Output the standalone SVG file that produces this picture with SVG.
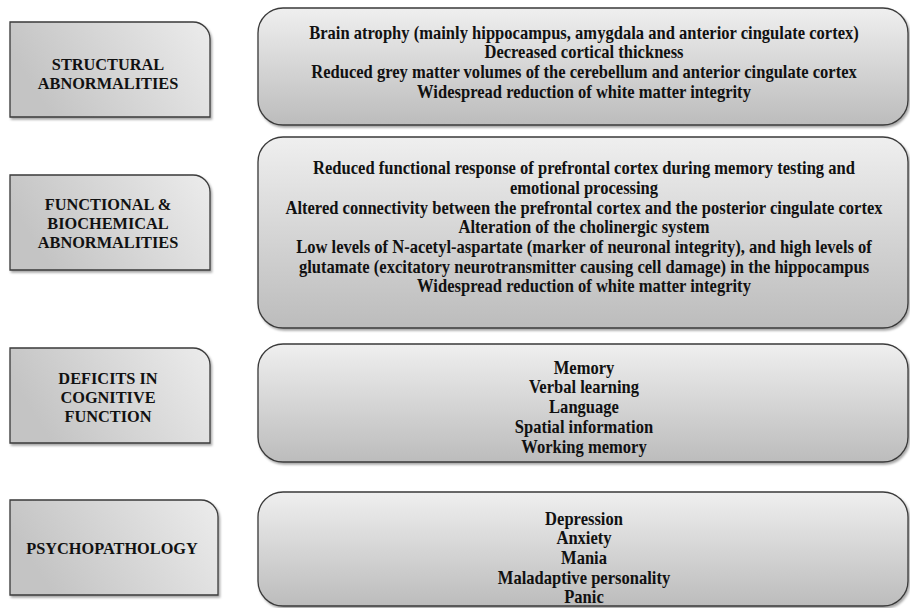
<svg xmlns="http://www.w3.org/2000/svg" width="910" height="608" viewBox="0 0 910 608">
<style>
.lbox{fill:url(#gl);stroke:#3a3a3a;stroke-width:1.3;filter:url(#sh)}
.rbox{fill:url(#gr);stroke:#3a3a3a;stroke-width:1.3;filter:url(#sh)}
text{font-family:"Liberation Serif","Times New Roman",serif;font-weight:bold;fill:#111;text-anchor:middle}
.lt{font-size:17px}
.rt{font-size:18px}
</style>
<defs>
<linearGradient id="gl" x1="0" y1="0.3" x2="1" y2="0">
<stop offset="0" stop-color="#c4c4c4"/>
<stop offset="1" stop-color="#ececec"/>
</linearGradient>
<linearGradient id="gr" x1="0" y1="0" x2="0" y2="1">
<stop offset="0" stop-color="#efefef"/>
<stop offset="1" stop-color="#bcbcbc"/>
</linearGradient>
<filter id="sh" x="-5%" y="-5%" width="110%" height="115%">
<feDropShadow dx="1.5" dy="2" stdDeviation="1.2" flood-color="#000" flood-opacity="0.35"/>
</filter>
</defs>
<rect width="910" height="608" fill="#fff"/>
<g id="connectors"/>
<g id="structural">
<path class="lbox" d="M10,22 H193 A17,17 0 0 1 210,39 V117 H10 Z"/>
<text class="lt" transform="translate(108,70) scale(0.96,1)">STRUCTURAL</text>
<text class="lt" transform="translate(108,89) scale(0.96,1)">ABNORMALITIES</text>
</g>
<g id="functional">
<path class="lbox" d="M10,175 H193 A17,17 0 0 1 210,192 V270 H10 Z"/>
<text class="lt" transform="translate(108,210) scale(0.96,1)">FUNCTIONAL &amp;</text>
<text class="lt" transform="translate(108,229) scale(0.96,1)">BIOCHEMICAL</text>
<text class="lt" transform="translate(108,248) scale(0.96,1)">ABNORMALITIES</text>
</g>
<g id="cognitive">
<path class="lbox" d="M10,348 H193 A17,17 0 0 1 210,365 V443 H10 Z"/>
<text class="lt" transform="translate(108,384) scale(0.96,1)">DEFICITS IN</text>
<text class="lt" transform="translate(108,403) scale(0.96,1)">COGNITIVE</text>
<text class="lt" transform="translate(108,422) scale(0.96,1)">FUNCTION</text>
</g>
<g id="psychopathology">
<path class="lbox" d="M10,500 H201 A17,17 0 0 1 218,517 V595 H10 Z"/>
<text class="lt" transform="translate(112,554) scale(0.96,1)">PSYCHOPATHOLOGY</text>
</g>
<g id="structural-details">
<rect class="rbox" x="258" y="8" width="650" height="117" rx="25"/>
<text class="rt" transform="translate(584,39) scale(0.92,1)">Brain atrophy (mainly hippocampus, amygdala and anterior cingulate cortex)</text>
<text class="rt" transform="translate(584,58) scale(0.92,1)">Decreased cortical thickness</text>
<text class="rt" transform="translate(584,78) scale(0.92,1)">Reduced grey matter volumes of the cerebellum and anterior cingulate cortex</text>
<text class="rt" transform="translate(584,98) scale(0.92,1)">Widespread reduction of white matter integrity</text>
</g>
<g id="functional-details">
<rect class="rbox" x="258" y="137" width="650" height="191" rx="25"/>
<text class="rt" transform="translate(584,174) scale(0.92,1)">Reduced functional response of prefrontal cortex during memory testing and</text>
<text class="rt" transform="translate(584,194) scale(0.92,1)">emotional processing</text>
<text class="rt" transform="translate(584,214) scale(0.92,1)">Altered connectivity between the prefrontal cortex and the posterior cingulate cortex</text>
<text class="rt" transform="translate(584,233) scale(0.92,1)">Alteration of the cholinergic system</text>
<text class="rt" transform="translate(584,253) scale(0.92,1)">Low levels of N-acetyl-aspartate (marker of neuronal integrity), and high levels of</text>
<text class="rt" transform="translate(584,273) scale(0.92,1)">glutamate (excitatory neurotransmitter causing cell damage) in the hippocampus</text>
<text class="rt" transform="translate(584,292) scale(0.92,1)">Widespread reduction of white matter integrity</text>
</g>
<g id="cognitive-details">
<rect class="rbox" x="258" y="344" width="650" height="118" rx="25"/>
<text class="rt" transform="translate(584,374) scale(0.92,1)">Memory</text>
<text class="rt" transform="translate(584,393) scale(0.92,1)">Verbal learning</text>
<text class="rt" transform="translate(584,413) scale(0.92,1)">Language</text>
<text class="rt" transform="translate(584,433) scale(0.92,1)">Spatial information</text>
<text class="rt" transform="translate(584,453) scale(0.92,1)">Working memory</text>
</g>
<g id="psychopathology-details">
<rect class="rbox" x="258" y="492" width="650" height="114" rx="25"/>
<text class="rt" transform="translate(584,525) scale(0.92,1)">Depression</text>
<text class="rt" transform="translate(584,544) scale(0.92,1)">Anxiety</text>
<text class="rt" transform="translate(584,564) scale(0.92,1)">Mania</text>
<text class="rt" transform="translate(584,584) scale(0.92,1)">Maladaptive personality</text>
<text class="rt" transform="translate(584,603) scale(0.92,1)">Panic</text>
</g>
</svg>
